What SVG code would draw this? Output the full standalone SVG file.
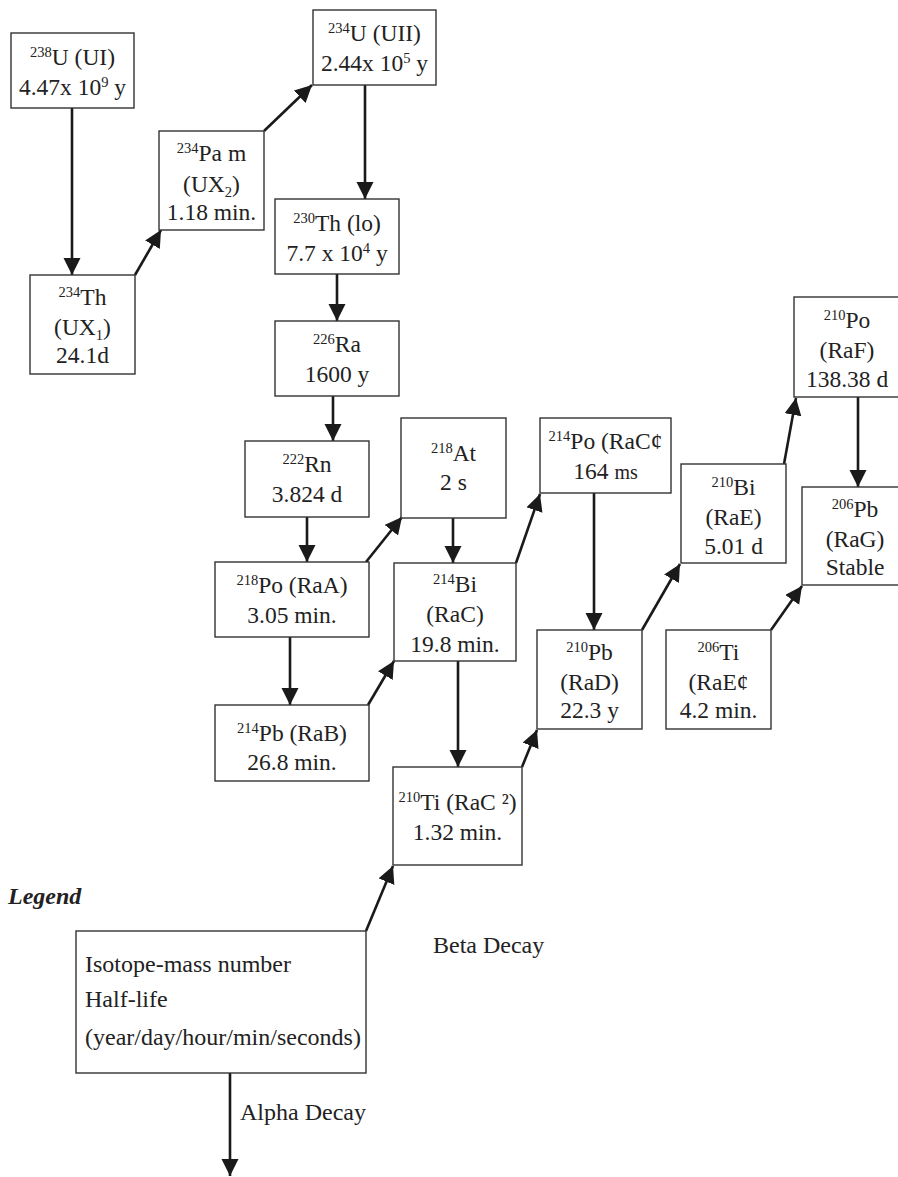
<svg xmlns="http://www.w3.org/2000/svg" width="898" height="1177" viewBox="0 0 898 1177">
<defs>
<marker id="ah" markerUnits="userSpaceOnUse" markerWidth="18" markerHeight="18" refX="17" refY="8.5" orient="auto">
<path d="M0,0 L17,8.5 L0,17 z" fill="#1a1a1a"/>
</marker>
<style>
text{font-family:"Liberation Serif","Times New Roman",serif;font-size:23.5px;fill:#222;}
.c{text-anchor:middle;}
.box{fill:#fff;stroke:#333;stroke-width:1.4;}
.ar{stroke:#1a1a1a;stroke-width:2.6;fill:none;marker-end:url(#ah);}
.s{font-size:14.5px;}
.lg{font-weight:bold;font-style:italic;}
.lt{font-size:24px;}
</style>
</defs>
<rect width="898" height="1177" fill="#fff"/>
<g id="connectors">
<line class="ar" x1="72" y1="108" x2="72" y2="275"/>
<line class="ar" x1="135" y1="275" x2="161" y2="230"/>
<line class="ar" x1="264" y1="131" x2="312" y2="85"/>
<line class="ar" x1="365" y1="85" x2="365" y2="199"/>
<line class="ar" x1="337" y1="274" x2="337" y2="321"/>
<line class="ar" x1="333" y1="396" x2="333" y2="441"/>
<line class="ar" x1="307" y1="517" x2="307" y2="562"/>
<line class="ar" x1="366" y1="562" x2="402" y2="517"/>
<line class="ar" x1="453" y1="518" x2="453" y2="563"/>
<line class="ar" x1="290" y1="637" x2="290" y2="705"/>
<line class="ar" x1="368" y1="705" x2="394" y2="661"/>
<line class="ar" x1="516" y1="563" x2="540" y2="494"/>
<line class="ar" x1="458" y1="661" x2="458" y2="767"/>
<line class="ar" x1="594" y1="493" x2="594" y2="630"/>
<line class="ar" x1="642" y1="630" x2="680" y2="564"/>
<line class="ar" x1="784" y1="464" x2="796" y2="398"/>
<line class="ar" x1="858" y1="397" x2="858" y2="487"/>
<line class="ar" x1="771" y1="630" x2="802" y2="586"/>
<line class="ar" x1="522" y1="767" x2="537" y2="730"/>
<line class="ar" x1="366" y1="931" x2="393" y2="866"/>
<line class="ar" x1="230" y1="1073" x2="230" y2="1176"/>
</g>
<g id="n-u238">
<rect class="box" x="11" y="33" width="123" height="75"/>
<text class="c" x="72.5" y="65"><tspan class="s" dy="-8">238</tspan><tspan dy="8">U (UI)</tspan></text>
<text class="c" x="72.5" y="95">4.47x 10<tspan class="s" dy="-8">9</tspan><tspan dy="8"> y</tspan></text>
</g>
<g id="n-th234">
<rect class="box" x="30" y="275" width="105" height="99"/>
<text class="c" x="82.5" y="305"><tspan class="s" dy="-8">234</tspan><tspan dy="8">Th</tspan></text>
<text class="c" x="82.5" y="335">(UX<tspan class="s" dy="5">1</tspan><tspan dy="-5">)</tspan></text>
<text class="c" x="82.5" y="363">24.1d</text>
</g>
<g id="n-pa234">
<rect class="box" x="159" y="131" width="105" height="99"/>
<text class="c" x="211.5" y="161"><tspan class="s" dy="-8">234</tspan><tspan dy="8">Pa m</tspan></text>
<text class="c" x="211.5" y="192">(UX<tspan class="s" dy="5">2</tspan><tspan dy="-5">)</tspan></text>
<text class="c" x="211.5" y="220">1.18 min.</text>
</g>
<g id="n-u234">
<rect class="box" x="313" y="10" width="123" height="75"/>
<text class="c" x="374.5" y="41"><tspan class="s" dy="-8">234</tspan><tspan dy="8">U (UII)</tspan></text>
<text class="c" x="374.5" y="71">2.44x 10<tspan class="s" dy="-8">5</tspan><tspan dy="8"> y</tspan></text>
</g>
<g id="n-th230">
<rect class="box" x="275" y="199" width="124" height="75"/>
<text class="c" x="337" y="231"><tspan class="s" dy="-8">230</tspan><tspan dy="8">Th (lo)</tspan></text>
<text class="c" x="337" y="261">7.7 x 10<tspan class="s" dy="-8">4</tspan><tspan dy="8"> y</tspan></text>
</g>
<g id="n-ra226">
<rect class="box" x="275" y="321" width="124" height="75"/>
<text class="c" x="337" y="352"><tspan class="s" dy="-8">226</tspan><tspan dy="8">Ra</tspan></text>
<text class="c" x="337" y="382">1600 y</text>
</g>
<g id="n-rn222">
<rect class="box" x="245" y="441" width="124" height="76"/>
<text class="c" x="307" y="472"><tspan class="s" dy="-8">222</tspan><tspan dy="8">Rn</tspan></text>
<text class="c" x="307" y="502">3.824 d</text>
</g>
<g id="n-at218">
<rect class="box" x="401" y="418" width="105" height="100"/>
<text class="c" x="453.5" y="461"><tspan class="s" dy="-8">218</tspan><tspan dy="8">At</tspan></text>
<text class="c" x="453.5" y="490">2 s</text>
</g>
<g id="n-po218">
<rect class="box" x="215" y="562" width="154" height="75"/>
<text class="c" x="292" y="593"><tspan class="s" dy="-8">218</tspan><tspan dy="8">Po (RaA)</tspan></text>
<text class="c" x="292" y="623">3.05 min.</text>
</g>
<g id="n-bi214">
<rect class="box" x="394" y="563" width="122" height="98"/>
<text class="c" x="455" y="592"><tspan class="s" dy="-8">214</tspan><tspan dy="8">Bi</tspan></text>
<text class="c" x="455" y="622">(RaC)</text>
<text class="c" x="455" y="652">19.8 min.</text>
</g>
<g id="n-pb214">
<rect class="box" x="215" y="705" width="154" height="76"/>
<text class="c" x="292" y="741"><tspan class="s" dy="-8">214</tspan><tspan dy="8">Pb (RaB)</tspan></text>
<text class="c" x="292" y="770">26.8 min.</text>
</g>
<g id="n-po214">
<rect class="box" x="540" y="418" width="131" height="75"/>
<text class="c" x="605.5" y="449"><tspan class="s" dy="-8">214</tspan><tspan dy="8">Po (RaC¢</tspan></text>
<text class="c" x="605.5" y="479">164 <tspan font-size="20">ms</tspan></text>
</g>
<g id="n-ti210">
<rect class="box" x="393" y="767" width="129" height="98"/>
<text class="c" x="457.5" y="810"><tspan class="s" dy="-8">210</tspan><tspan dy="8">Ti (RaC ²)</tspan></text>
<text class="c" x="457.5" y="840">1.32 min.</text>
</g>
<g id="n-pb210">
<rect class="box" x="537" y="630" width="105" height="99"/>
<text class="c" x="589.5" y="660"><tspan class="s" dy="-8">210</tspan><tspan dy="8">Pb</tspan></text>
<text class="c" x="589.5" y="690">(RaD)</text>
<text class="c" x="589.5" y="718">22.3 y</text>
</g>
<g id="n-bi210">
<rect class="box" x="681" y="464" width="105" height="99"/>
<text class="c" x="733.5" y="495"><tspan class="s" dy="-8">210</tspan><tspan dy="8">Bi</tspan></text>
<text class="c" x="733.5" y="525">(RaE)</text>
<text class="c" x="733.5" y="554">5.01 d</text>
</g>
<g id="n-po210">
<rect class="box" x="794" y="297" width="115" height="100"/>
<text class="c" x="847" y="328"><tspan class="s" dy="-8">210</tspan><tspan dy="8">Po</tspan></text>
<text class="c" x="847" y="358">(RaF)</text>
<text class="c" x="847" y="387">138.38 d</text>
</g>
<g id="n-pb206">
<rect class="box" x="802" y="487" width="110" height="98"/>
<text class="c" x="855" y="517"><tspan class="s" dy="-8">206</tspan><tspan dy="8">Pb</tspan></text>
<text class="c" x="855" y="547">(RaG)</text>
<text class="c" x="855" y="575">Stable</text>
</g>
<g id="n-ti206">
<rect class="box" x="666" y="630" width="105" height="99"/>
<text class="c" x="718.5" y="660"><tspan class="s" dy="-8">206</tspan><tspan dy="8">Ti</tspan></text>
<text class="c" x="718.5" y="690">(RaE¢</text>
<text class="c" x="718.5" y="718">4.2 min.</text>
</g>
<g id="legend">
<text class="lg lt" x="8" y="904">Legend</text>
<rect class="box" x="76" y="931" width="290" height="142"/>
<text class="lt" x="85" y="972">Isotope-mass  number</text>
<text class="lt" x="85" y="1007">Half-life</text>
<text class="lt" x="85" y="1045">(year/day/hour/min/seconds)</text>
<text class="lt" x="433" y="953">Beta Decay</text>
<text class="lt" x="240" y="1120">Alpha Decay</text>
</g>
</svg>
